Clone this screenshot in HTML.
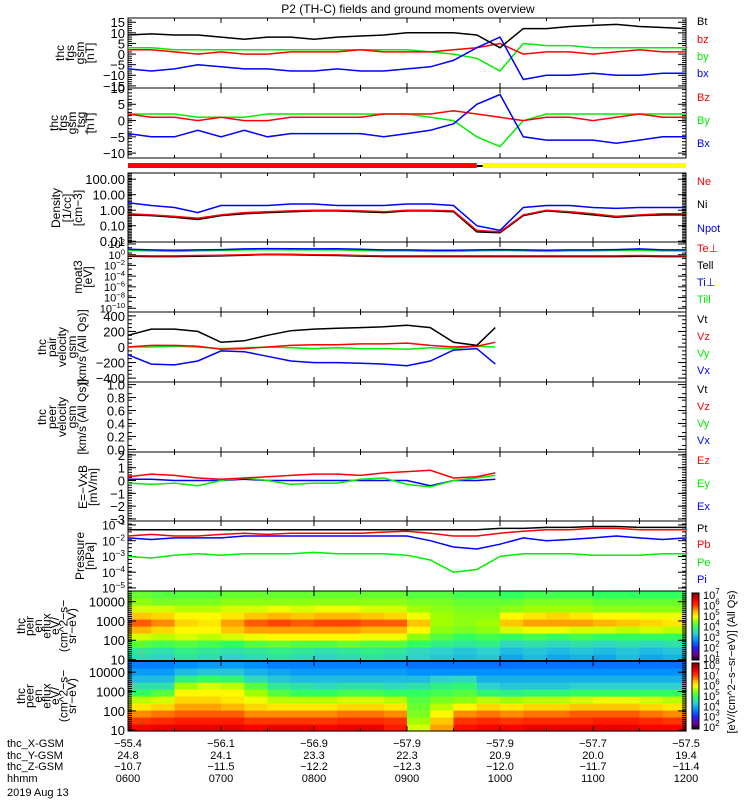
<!DOCTYPE html>
<html><head><meta charset="utf-8"><style>
body{margin:0;background:#fff;width:750px;height:800px;overflow:hidden}
svg{display:block;font-family:"Liberation Sans",sans-serif}
</style></head><body>
<svg id="c" width="750" height="800" viewBox="0 0 750 800">
<text x="408" y="13" font-size="12" text-anchor="middle">P2 (TH-C) fields and ground moments overview</text>
</svg>
<script>
// ---- data ----
const hours25 = [0,0.25,0.5,0.75,1,1.25,1.5,1.75,2,2.25,2.5,2.75,3,3.25,3.5,3.75,4,4.25,4.5,4.75,5,5.25,5.5,5.75,6];
const hours17 = [0,0.25,0.5,0.75,1,1.25,1.5,1.75,2,2.25,2.5,2.75,3,3.25,3.5,3.75,3.95];
const gsmBt = [9,9.5,9,9,8,7,8,8,7,8,8.5,9,10,10,10,9,3,12,12,13,13.5,14,13,12.5,12];
const gsmBz = [2,2,1,0,1,0,0,1,1,1,2,1,1,1,2,3,5,0,1,1,0,1,2,1,1];
const gsmBy = [3,3,2,2,2,2,2,2,2,2,2,2,2,1,0,-2,-8,5,4,4,3,3,3,3,3];
const gsmBx = [-7,-8,-7,-5,-6,-7,-7,-8,-8,-7,-8,-8,-7,-6,-3,3,8,-12,-10,-10,-9,-10,-10,-9,-9];
const gseBz = [2,1,1,0,1,0,0,1,1,1,1,2,2,2,3,2,1,0,1,1,0,1,2,1,1];
const gseBy = [2,2,2,1,1,1,2,2,2,2,2,2,2,1,0,-5,-8,0,2,2,2,2,2,2,2];
const gseBx = [-4,-5,-5,-3,-5,-3,-5,-4,-4,-4,-4,-5,-4,-3,-1,5,8,-5,-6,-6,-6,-7,-6,-5,-5];
const densNe = [0.6,0.5,0.4,0.3,0.5,0.7,0.8,0.9,1,1,0.9,0.8,1,1,0.9,0.05,0.04,0.5,1,0.8,0.6,0.4,0.5,0.6,0.6];
const densNi = [0.5,0.45,0.35,0.25,0.45,0.6,0.7,0.8,0.9,0.9,0.8,0.7,0.9,0.9,0.8,0.04,0.035,0.45,0.9,0.7,0.5,0.35,0.45,0.5,0.5];
const densNpot = [3,2,1.5,0.7,2,2,2,2.5,2.5,2,2,2,2.5,2.5,2,0.1,0.05,1.5,2,2,1.5,1.3,1.5,1.5,1.5];
const tempBlue = [10,8,7,8,9,12,14,13,12,13,10,8,8,7,7,8,9,8,7,8,8,9,12,8,8];
const tempTill = [6,5,4,5,6,8,9,8,8,8,6,5,5,4,4,5,6,5,4,5,5,6,7,5,5];
const tempTe = [0.7,0.6,0.6,0.7,0.8,1.0,1.3,1.2,1.0,0.9,0.7,0.6,0.6,0.6,0.6,0.6,0.6,0.6,0.6,0.6,0.6,0.6,0.7,0.6,0.6];
const tempTell = [0.5,0.45,0.45,0.5,0.6,0.8,1.1,1.0,0.8,0.7,0.55,0.45,0.45,0.45,0.45,0.45,0.45,0.45,0.45,0.45,0.45,0.45,0.5,0.45,0.45];
const velVt = [150,230,230,200,60,80,150,210,230,240,250,260,280,250,60,20,250];
const velVx = [-100,-220,-230,-180,-50,-60,-120,-180,-200,-200,-210,-220,-240,-180,-40,-20,-220];
const velVz = [0,20,20,10,-30,-20,0,20,30,30,40,40,50,20,0,10,60];
const velVy = [0,0,10,0,-20,-10,0,-10,-20,-10,-20,-20,-30,-10,-20,10,0];
const efEz = [0.3,0.5,0.4,0.2,0.1,0.2,0.3,0.4,0.5,0.5,0.4,0.6,0.7,0.8,0.2,0.3,0.6];
const efEy = [-0.2,-0.3,-0.2,-0.4,0,0.2,0,-0.3,-0.2,-0.2,0.1,0.2,-0.3,-0.5,0,0.2,0.4];
const efEx = [0.1,0.1,0,0,0,0.1,0,0,0,0,0,0,0,-0.4,0,0,0.1];
const presPt = [0.05,0.05,0.05,0.05,0.05,0.05,0.05,0.05,0.05,0.05,0.05,0.05,0.05,0.05,0.05,0.05,0.06,0.06,0.07,0.07,0.08,0.08,0.07,0.07,0.07];
const presPb = [0.02,0.025,0.02,0.02,0.025,0.03,0.025,0.03,0.03,0.03,0.03,0.035,0.04,0.03,0.02,0.02,0.03,0.04,0.05,0.05,0.06,0.06,0.05,0.05,0.05];
const presPi = [0.015,0.012,0.015,0.015,0.015,0.02,0.02,0.02,0.02,0.02,0.02,0.02,0.02,0.01,0.004,0.003,0.006,0.015,0.01,0.012,0.015,0.02,0.015,0.012,0.015];
const presPe = [0.001,0.0008,0.0012,0.0015,0.0012,0.0015,0.0015,0.0015,0.0018,0.0015,0.0015,0.0015,0.0012,0.0006,0.0001,0.00015,0.001,0.0015,0.0015,0.0015,0.0012,0.0012,0.0012,0.0015,0.0015];
const ionFlux = [
[3.5,3.4,3.6,3.5,3.4,3.5,3.6,3.5,3.4,3.5,3.6,3.5,3.4,3.3,3.2,3.3,3.0,3.2,3.0,3.1,3.0,3.2,3.0,3.1],
[3.7,3.6,3.8,3.7,3.6,3.7,3.8,3.7,3.6,3.7,3.8,3.7,3.5,3.4,3.3,3.4,3.2,3.3,3.2,3.3,3.2,3.3,3.2,3.3],
[4.2,4.1,4.2,4.1,4.0,4.2,4.3,4.2,4.2,4.3,4.2,4.2,4.0,3.8,3.7,3.8,3.5,3.6,3.5,3.6,3.5,3.6,3.5,3.6],
[4.8,4.7,4.8,4.7,4.8,4.9,5.0,5.0,5.0,5.0,4.9,4.9,4.5,4.2,4.0,4.1,4.0,4.1,4.0,4.1,4.0,4.0,4.0,4.0],
[5.4,5.2,5.0,5.0,5.3,5.5,5.5,5.5,5.5,5.5,5.4,5.4,5.0,4.5,4.4,4.5,4.8,4.9,4.9,4.8,4.8,4.7,4.8,4.7],
[5.8,5.6,5.2,5.1,5.5,5.8,5.9,5.8,5.9,5.9,5.8,5.8,5.3,4.6,4.5,4.6,5.3,5.5,5.5,5.5,5.4,5.3,5.2,5.1],
[5.3,5.2,5.0,5.0,5.1,5.3,5.4,5.3,5.4,5.4,5.3,5.2,4.9,4.6,4.5,4.5,5.0,5.1,5.2,5.1,5.0,5.0,4.9,4.9],
[4.8,4.8,4.7,4.7,4.8,4.8,4.9,4.8,4.9,4.9,4.8,4.8,4.6,4.5,4.4,4.4,4.5,4.6,4.6,4.6,4.5,4.5,4.5,4.5],
[4.5,4.4,4.4,4.4,4.5,4.5,4.5,4.5,4.5,4.5,4.5,4.5,4.4,4.4,4.3,4.3,4.3,4.4,4.4,4.4,4.3,4.3,4.3,4.3],
[4.3,4.2,4.2,4.2,4.3,4.3,4.3,4.3,4.3,4.3,4.3,4.3,4.2,4.2,4.1,4.1,4.0,4.1,4.1,4.1,4.0,4.0,4.0,4.0]];
const eleFlux = [
[7.4,7.5,7.5,7.5,7.5,7.4,7.5,7.5,7.4,7.5,7.5,7.2,5.8,6.5,7.3,7.4,7.4,7.5,7.5,7.5,7.5,7.5,7.4,7.4],
[7.0,7.1,7.2,7.2,7.2,7.0,7.0,7.0,7.0,7.1,7.1,7.0,5.6,6.3,7.0,7.1,7.0,7.1,7.1,7.1,7.2,7.2,7.1,7.0],
[6.6,6.7,6.8,6.8,6.8,6.6,6.6,6.6,6.6,6.7,6.7,6.6,5.4,6.0,6.6,6.7,6.6,6.7,6.7,6.8,6.8,6.8,6.7,6.6],
[6.1,6.2,6.5,6.5,6.4,6.2,6.1,6.1,6.1,6.2,6.2,6.1,5.3,5.7,6.0,6.2,6.1,6.2,6.2,6.3,6.3,6.3,6.2,6.1],
[5.7,5.8,6.2,6.2,6.1,5.9,5.7,5.7,5.7,5.8,5.8,5.7,5.2,5.4,5.5,5.7,5.6,5.7,5.7,5.8,5.9,5.9,5.8,5.7],
[5.0,5.2,6.0,6.0,6.0,5.6,5.2,5.0,5.0,5.1,5.1,5.0,5.0,5.1,5.2,4.9,4.8,4.9,4.9,5.0,5.0,5.0,5.0,5.0],
[4.6,4.6,5.6,5.8,5.7,5.2,4.7,4.6,4.5,4.6,4.6,4.5,4.6,4.8,4.9,4.4,4.3,4.3,4.3,4.4,4.4,4.4,4.4,4.4],
[4.2,4.2,4.8,5.0,4.9,4.5,4.3,4.2,4.2,4.2,4.2,4.2,4.2,4.4,4.5,4.1,4.1,4.1,4.1,4.1,4.1,4.1,4.1,4.1],
[3.9,3.9,4.2,4.3,4.3,4.1,4.0,3.9,3.9,3.9,3.9,3.9,3.8,3.8,3.8,3.8,3.8,3.8,3.8,3.8,3.8,3.8,3.8,3.8],
[3.7,3.7,3.8,3.9,3.9,3.8,3.7,3.7,3.7,3.7,3.7,3.7,3.6,3.6,3.6,3.6,3.6,3.6,3.6,3.6,3.6,3.6,3.6,3.6]];
const hourLabels = ['0600','0700','0800','0900','1000','1100','1200'];
const xGsm = ['-55.4','-56.1','-56.9','-57.9','-57.9','-57.7','-57.5'];
const yGsm = ['24.8','24.1','23.3','22.3','20.9','20.0','19.4'];
const zGsm = ['-10.7','-11.5','-12.2','-12.3','-12.0','-11.7','-11.4'];

// ---- drawing ----
const S = document.getElementById('c'), NS = 'http://www.w3.org/2000/svg';
const X0 = 128, X1 = 686;
function xs(h){ return X0 + h * (X1 - X0) / 6; }
function el(tag, a, parent){ const e = document.createElementNS(NS, tag); for (const k in a) e.setAttribute(k, a[k]); (parent||S).appendChild(e); return e; }
function mkY(p){ return v => { const t = p.log ? Math.log10(v) : v; return p.y1 - (t - p.min) / (p.max - p.min) * (p.y1 - p.y0); }; }
function frame(p, name, ticks, labels, minorStep, fs){
  fs = fs || 13;
  const y = mkY(p);
  const r = el('rect', {x:X0, y:p.y0, width:X1-X0, height:p.y1-p.y0, fill:'none', stroke:'#000', 'stroke-width':1});
  
  
  for (let h = 0; h <= 6; h += 0.5) { const L = (h % 1 === 0) ? 5 : 3;
    el('line', {x1:xs(h), x2:xs(h), y1:p.y0, y2:p.y0+L, stroke:'#000'}); el('line', {x1:xs(h), x2:xs(h), y1:p.y1, y2:p.y1-L, stroke:'#000'}); }
  ticks.forEach((t, i) => { const yy = y(t);
    el('line', {x1:X0, x2:X0+8, y1:yy, y2:yy, stroke:'#000'}); el('line', {x1:X1, x2:X1-8, y1:yy, y2:yy, stroke:'#000'});
    const tx = el('text', {x:X0-3, y:yy+fs*0.38, 'font-size':fs, 'text-anchor':'end'});
    
    
    const lb = labels[i];
    if (Array.isArray(lb)) { tx.textContent = lb[0]; const sp = el('tspan', {'font-size':fs*0.7, dy:-fs*0.4}, tx); sp.textContent = lb[1]; }
    else tx.textContent = lb;
  });
  if (minorStep) for (let v = p.min; v <= p.max; v += minorStep) { const yy = y(p.log ? Math.pow(10, v) : v);
    if (yy < p.y0 || yy > p.y1) continue;
    el('line', {x1:X0, x2:X0+4, y1:yy, y2:yy, stroke:'#000'}); el('line', {x1:X1, x2:X1-4, y1:yy, y2:yy, stroke:'#000'}); }
  return y;
}
function series(p, times, vals, color, name){
  const y = mkY(p);
  const pts = vals.map((v, i) => xs(times[i]).toFixed(1) + ',' + Math.max(p.y0, Math.min(p.y1, y(v))).toFixed(1)).join(' ');
  const pl = el('polyline', {points:pts, fill:'none', stroke:color, 'stroke-width':1.5});
  
  
}
function ylabel(lines, x0, dx, yc, name){
  const g = el('g', {});
  
  
  lines.forEach((s, i) => { const x = x0 + i * dx; const t = el('text', {x:x, y:yc, 'font-size':12, 'text-anchor':'middle', transform:'rotate(-90 ' + x + ' ' + yc + ')'}, g); t.textContent = s; });
}
function legend(items, ys, name){
  items.forEach((it, i) => { const t = el('text', {x:697, y:ys[i], 'font-size':11, fill:it[1]});
    
    
    t.textContent = it[0]; });
}
const BK='#000', RD='#f00', GR='#0e0', BL='#00f';

// Panel 1
const p1 = {y0:18, y1:88, min:-16, max:17};
frame(p1, 'fgs-gsm', [15,10,5,0,-5,-10,-15], ['15','10','5','0','\u22125','\u221210','\u221215'], 1);
series(p1, hours25, gsmBy, GR, 'gsm-by-line'); series(p1, hours25, gsmBz, RD, 'gsm-bz-line');
series(p1, hours25, gsmBx, BL, 'gsm-bx-line'); series(p1, hours25, gsmBt, BK, 'gsm-bt-line');
ylabel(['thc','fgs','gsm','[nT]'], 64, 10, 53, 'fgs-gsm-y-title');
legend([['Bt',BK],['bz',RD],['by',GR],['bx',BL]], [25,43,60,77], 'fgs-gsm');
// Panel 2
const p2 = {y0:88, y1:158, min:-11.5, max:10};
frame(p2, 'fgs-gse', [10,5,0,-5,-10], ['10','5','0','\u22125','\u221210'], 1);
series(p2, hours25, gseBy, GR, 'gse-by-line'); series(p2, hours25, gseBz, RD, 'gse-bz-line'); series(p2, hours25, gseBx, BL, 'gse-bx-line');
ylabel(['thc','fgs','gsm','_tsg','[nT]'], 58, 9, 123, 'fgs-gse-y-title');
legend([['Bz',RD],['By',GR],['Bx',BL]], [101,124,147], 'fgs-gse');
// mode bar
el('rect', {x:X0, y:163, width:xs(3.75)-X0, height:5, fill:'#f00'});
el('rect', {x:xs(3.75), y:165, width:6, height:2, fill:'#000'});
el('rect', {x:xs(3.75)+6, y:163, width:X1-xs(3.75)-6, height:5, fill:'#ff0'});
// Density
const p3 = {y0:173, y1:242, min:-2.05, max:2.4, log:true};
frame(p3, 'density', [100,10,1,0.1,0.01], ['100.00','10.00','1.00','0.10','0.01'], 0.1);
series(p3, hours25, densNi, BK, 'ni-line'); series(p3, hours25, densNe, RD, 'ne-line'); series(p3, hours25, densNpot, BL, 'npot-line');
ylabel(['Density','[1/cc]','[cm\u22123]'], 60, 11, 208, 'density-y-title');
legend([['Ne',RD],['Ni',BK],['Npot',BL]], [185,208,232], 'density');
// moat3
const p4 = {y0:242, y1:312, min:-10.7, max:2.37, log:true};
frame(p4, 'temperature', [100,1,0.01,1e-4,1e-6,1e-8,1e-10], [['10','2'],['10','0'],['10','\u22122'],['10','\u22124'],['10','\u22126'],['10','\u22128'],['10','\u221210']], 1, 11);
series(p4, hours25, tempTell, BK, 'tell-line'); series(p4, hours25, tempTe, RD, 'teperp-line');
series(p4, hours25, tempTill, GR, 'till-line'); series(p4, hours25, tempBlue, BL, 'tiperp-line');
ylabel(['moat3','[eV]'], 82, 10, 277, 'temperature-y-title');
legend([['Te\u22a5',RD],['Tell',BK],['Ti\u22a5',BL],['Till',GR]], [252,269,286,303], 'temperature');
// pair velocity
const p5 = {y0:312, y1:382, min:-450, max:450};
frame(p5, 'ion-velocity', [400,200,0,-200,-400], ['400','200','0','\u2212200','\u2212400'], 50);
series(p5, hours17, velVy, GR, 'vy-line'); series(p5, hours17, velVz, RD, 'vz-line');
series(p5, hours17, velVx, BL, 'vx-line'); series(p5, hours17, velVt, BK, 'vt-line');
ylabel(['thc','pair','velocity','gsm','[km/s (All Qs)]'], 46, 10, 347, 'ion-velocity-y-title');
legend([['Vt',BK],['Vz',RD],['Vy',GR],['Vx',BL]], [323,340,357,374], 'ion-velocity');
// peer velocity
const p6 = {y0:382, y1:452, min:-0.04, max:1.04};
frame(p6, 'electron-velocity', [1,0.8,0.6,0.4,0.2,0], ['1.0','0.8','0.6','0.4','0.2','0.0'], 0.1);
ylabel(['thc','peer','velocity','gsm','[km/s (All Qs)]'], 46, 10, 417, 'electron-velocity-y-title');
legend([['Vt',BK],['Vz',RD],['Vy',GR],['Vx',BL]], [393,410,427,444], 'electron-velocity');
// E field
const p7 = {y0:452, y1:521, min:-3.16, max:2.23};
frame(p7, 'efield', [2,1,0,-1,-2,-3], ['2','1','0','\u22121','\u22122','\u22123'], 0.2);
series(p7, hours17, efEx, BL, 'ex-line'); series(p7, hours17, efEy, GR, 'ey-line'); series(p7, hours17, efEz, RD, 'ez-line');
ylabel(['E=\u2212VxB','[mV/m]'], 87, 10, 487, 'efield-y-title');
legend([['Ez',RD],['Ey',GR],['Ex',BL]], [464,487,510], 'efield');
// Pressure
const p8 = {y0:521, y1:591, min:-5.19, max:-0.75, log:true};
frame(p8, 'pressure', [0.1,0.01,0.001,1e-4,1e-5], [['10','\u22121'],['10','\u22122'],['10','\u22123'],['10','\u22124'],['10','\u22125']], 0.25, 12);
series(p8, hours25, presPe, GR, 'pe-line'); series(p8, hours25, presPi, BL, 'pi-line');
series(p8, hours25, presPb, RD, 'pb-line'); series(p8, hours25, presPt, BK, 'pt-line');
ylabel(['Pressure','[nPa]'], 84, 10, 556, 'pressure-y-title');
legend([['Pt',BK],['Pb',RD],['Pe',GR],['Pi',BL]], [532,548,566,583], 'pressure');
// spectrograms
const stops = [[0,'#1a0026'],[0.08,'#700090'],[0.18,'#2020ff'],[0.3,'#0090ff'],[0.4,'#30d0d0'],[0.5,'#30ff60'],[0.6,'#a0ff00'],[0.66,'#ffff00'],[0.74,'#ffb000'],[0.82,'#ff4000'],[0.9,'#ff0000'],[1,'#900000']];
function hx(c){ return [1,3,5].map(i => parseInt(c.substr(i,2),16)); }
function cmap(t){ t = Math.max(0, Math.min(1, t)); for (let i = 1; i < stops.length; i++) if (t <= stops[i][0]) {
  const a = stops[i-1], b = stops[i], f = (t - a[0]) / (b[0] - a[0]), ca = hx(a[1]), cb = hx(b[1]);
  return 'rgb(' + ca.map((v, k) => Math.round(v + (cb[k] - v) * f)).join(',') + ')'; } return stops[stops.length-1][1]; }
function spectro(y0, y1, mat, lo, name){
  const g = el('g', {});
  
  
  const nE = mat.length, nT = mat[0].length, cw = (X1 - X0) / nT, ch = (y1 - y0) / nE;
  mat.forEach((row, e) => row.forEach((v, t) => {
    el('rect', {x:(X0 + t*cw).toFixed(2), y:(y1 - (e+1)*ch).toFixed(2), width:(cw+0.6).toFixed(2), height:(ch+0.6).toFixed(2), fill:cmap((v - lo)/6)}, g);
  }));
}
spectro(591, 661, ionFlux, 1, 'ion-spectrogram');
spectro(661, 731, eleFlux, 2, 'electron-spectrogram');
const pS1 = {y0:591, y1:661, min:0.93, max:4.55, log:true}, pS2 = {y0:661, y1:731, min:0.96, max:4.58, log:true};
frame(pS1, 'ion-spectrogram', [10000,1000,100,10], ['10000','1000','100','10'], 0.1);
frame(pS2, 'electron-spectrogram', [10000,1000,100,10], ['10000','1000','100','10'], 0.1);
el('line', {x1:X0, x2:X1, y1:661, y2:661, stroke:'#000', 'stroke-width':2});
ylabel(['thc','peir','en','eflux','eV/','(cm^2\u2212s\u2212','sr\u2212eV)'], 25, 8.5, 626, 'ion-spectrogram-y-title');
ylabel(['thc','peer','en','eflux','eV/','(cm^2\u2212s\u2212','sr\u2212eV)'], 25, 8.5, 696, 'electron-spectrogram-y-title');
// colorbars
function cbar(y0, y1, exps, name){
  const g = el('g', {});
  
  
  for (let i = 0; i < 40; i++) el('rect', {x:692, y:y1 - (i+1)*(y1-y0)/40, width:7, height:(y1-y0)/40+0.5, fill:cmap(i/39)}, g);
  el('rect', {x:692, y:y0, width:7, height:y1-y0, fill:'none', stroke:'#000'}, g);
  exps.forEach((e, i) => { const yy = y1 - 2 - i * (y1 - y0 - 4) / (exps.length - 1);
    const t = el('text', {x:703, y:yy+4, 'font-size':11}, g); t.textContent = '10'; const s = el('tspan', {'font-size':8, dy:-5}, t); s.textContent = e; });
}
cbar(593, 660, ['1','2','3','4','5','6','7'], 'ion-colorbar');
cbar(663, 729, ['2','3','4','5','6','7','8'], 'electron-colorbar');
const cbt = el('text', {x:735, y:662, 'font-size':11, 'text-anchor':'middle', transform:'rotate(-90 735 662)'});


cbt.textContent = '[eV/(cm^2\u2212s\u2212sr\u2212eV)] (All Qs)';
// time axis labels
const rows = [['thc_X-GSM', xGsm, 747], ['thc_Y-GSM', yGsm, 759], ['thc_Z-GSM', zGsm, 770], ['hhmm', hourLabels, 782]];
rows.forEach(r => {
  const t = el('text', {x:7, y:r[2], 'font-size':11});
  
  
  t.textContent = r[0];
  r[1].forEach((v, i) => { const tt = el('text', {x:xs(i), y:r[2], 'font-size':11, 'text-anchor':'middle'});
    
    
    tt.textContent = v.replace('-', '\u2212'); });
});
const dt = el('text', {x:7, y:796, 'font-size':11});


dt.textContent = '2019 Aug 13';
</script>
</body></html>
